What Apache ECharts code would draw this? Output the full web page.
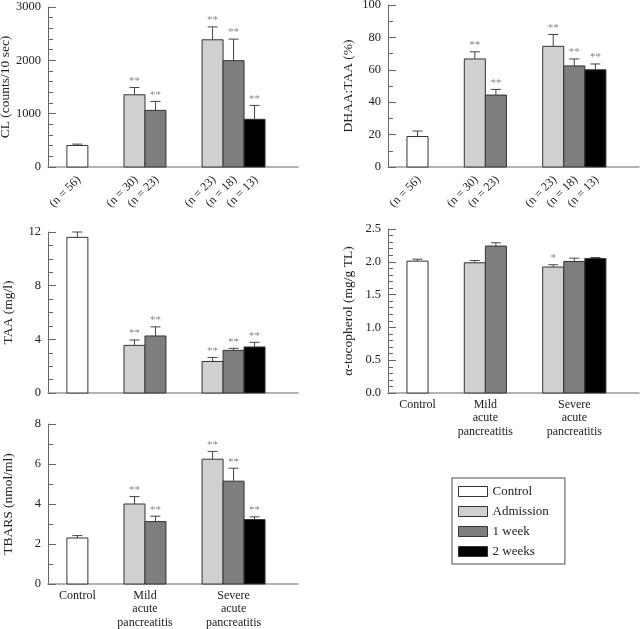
<!DOCTYPE html>
<html><head><meta charset="utf-8">
<script src="https://cdn.jsdelivr.net/npm/echarts@6/dist/echarts.min.js"></script>
<style>html,body{margin:0;padding:0;background:#fff}#c{width:640px;height:629px}</style>
</head><body><div id="c"></div>
<script>
// ---- data ----
const groupLabels = ['Control', 'Mild\nacute\npancreatitis', 'Severe\nacute\npancreatitis'];
const timepoints = ['Control', 'Admission', '1 week', '2 weeks'];
const barGroup = [0, 1, 1, 2, 2, 2];
const barTime  = [0, 1, 2, 1, 2, 3];
const nLabels = ['(n = 56)', '(n = 30)', '(n = 23)', '(n = 23)', '(n = 18)', '(n = 13)'];

const clMean  = [404, 1354, 1062, 2385, 1994, 894];
const clSem   = [25, 137, 168, 242, 404, 261];
const clStars = ['', '**', '**', '**', '**', '**'];

const dhaaMean  = [18.8, 66.7, 44.4, 74.5, 62.4, 60.0];
const dhaaSem   = [3.4, 4.4, 3.5, 7.3, 4.3, 3.6];
const dhaaStars = ['', '**', '**', '**', '**', '**'];

const taaMean  = [11.6, 3.55, 4.25, 2.35, 3.18, 3.43];
const taaSem   = [0.4, 0.4, 0.68, 0.3, 0.15, 0.35];
const taaStars = ['', '**', '**', '**', '**', '**'];

const tocoMean  = [2.01, 1.985, 2.24, 1.92, 2.005, 2.05];
const tocoSem   = [0.03, 0.035, 0.05, 0.035, 0.05, 0.016];
const tocoStars = ['', '', '', '*', '', ''];

const tbarsMean  = [2.30, 4.0, 3.12, 6.24, 5.14, 3.22];
const tbarsSem   = [0.12, 0.37, 0.27, 0.39, 0.65, 0.14];
const tbarsStars = ['', '**', '**', '**', '**', '**'];

// ---- style / layout ----
const FONT = 'Liberation Serif';
const fills = ['#ffffff', '#d0d1cf', '#7e7f7d', '#000000'];
const GROUP_SIZE = [1, 2, 3], PAD_L = 0.9, GAP = 1.72, PAD_R = 1.57;
const groupStart = [];
let acc = PAD_L;
for (let g = 0; g < GROUP_SIZE.length; g++) { groupStart.push(acc); acc += GROUP_SIZE[g] + GAP; }
const xMax = acc - GAP + PAD_R;
const barX = barGroup.map((g, i) => groupStart[g] + (i - barGroup.indexOf(g)));
const groupCenter = GROUP_SIZE.map((n, g) => groupStart[g] + n / 2);

const panels = [
  {mean: clMean, sem: clSem, stars: clStars, name: 'CL (counts/10 sec)', min: 0, max: 3000, interval: 1000, minor: 5, dec: 0,
   grid: {left: 48, top: 7, width: 250, height: 160}, showN: true, showGroups: false},
  {mean: dhaaMean, sem: dhaaSem, stars: dhaaStars, name: 'DHAA:TAA (%)', min: 0, max: 100, interval: 20, minor: 2, dec: 0,
   grid: {left: 388, top: 5, width: 251, height: 162}, showN: true, showGroups: false},
  {mean: taaMean, sem: taaSem, stars: taaStars, name: 'TAA (mg/l)', min: 0, max: 12, interval: 4, minor: 4, dec: 0,
   grid: {left: 48, top: 232, width: 250, height: 161}, showN: false, showGroups: false},
  {mean: tocoMean, sem: tocoSem, stars: tocoStars, name: 'α-tocopherol (mg/g TL)', min: 0, max: 2.5, interval: 0.5, minor: 5, dec: 1,
   grid: {left: 388, top: 229, width: 251, height: 164}, showN: false, showGroups: true},
  {mean: tbarsMean, sem: tbarsSem, stars: tbarsStars, name: 'TBARS (nmol/ml)', min: 0, max: 8, interval: 2, minor: 2, dec: 0,
   grid: {left: 48, top: 424, width: 250, height: 160}, showN: false, showGroups: true}
];

const grids = [], xAxes = [], yAxes = [], series = [];
panels.forEach((P, pi) => {
  grids.push(Object.assign({outerBoundsMode: 'none', containLabel: false}, P.grid));
  xAxes.push({type: 'value', gridIndex: pi, min: 0, max: xMax,
    axisLine: {show: true, onZero: false, lineStyle: {color: '#999', width: 1.5}},
    axisTick: {show: false}, axisLabel: {show: false}, splitLine: {show: false}});
  yAxes.push({type: 'value', gridIndex: pi, min: P.min, max: P.max, interval: P.interval,
    axisLine: {show: true, lineStyle: {color: '#666', width: 1}},
    axisTick: {show: true, inside: true, length: 8, lineStyle: {color: '#666'}},
    minorTick: {show: true, splitNumber: P.minor, length: 5, lineStyle: {color: '#666'}},
    axisLabel: {color: '#222', fontFamily: FONT, fontSize: 12.5, margin: 7,
      formatter: v => v.toFixed(P.dec)},
    splitLine: {show: false},
    name: P.name, nameLocation: 'middle', nameGap: 33,
    nameTextStyle: {fontFamily: FONT, fontSize: 13.5, color: '#222'}});
  for (let t = 0; t < timepoints.length; t++) {
    const idx = [];
    barTime.forEach((bt, i) => { if (bt === t) idx.push(i); });
    series.push({
      type: 'custom', name: timepoints[t], xAxisIndex: pi, yAxisIndex: pi, clip: false,
      itemStyle: {color: fills[t], borderColor: '#333', borderWidth: 1},
      encode: {x: 0, y: 1},
      data: idx.map(i => [barX[i], P.mean[i], P.sem[i], i]),
      renderItem: (params, api) => {
        const x0 = api.value(0), v = api.value(1), e = api.value(2), i = api.value(3);
        const pb = api.coord([x0, 0]), pt = api.coord([x0 + 1, v]), pe = api.coord([x0 + 0.5, v + e]);
        const cx = pe[0];
        const ch = [
          {type: 'rect', shape: {x: pb[0], y: pt[1], width: pt[0] - pb[0], height: pb[1] - pt[1]},
           style: {fill: fills[t], stroke: '#333', lineWidth: 1}},
          {type: 'line', shape: {x1: cx, y1: pt[1], x2: cx, y2: pe[1]}, style: {stroke: '#444', lineWidth: 1}},
          {type: 'line', shape: {x1: cx - 5, y1: pe[1], x2: cx + 5, y2: pe[1]}, style: {stroke: '#444', lineWidth: 1}}
        ];
        if (P.stars[i]) ch.push({type: 'text', x: cx, y: pe[1] - 1,
          style: {text: P.stars[i], fill: '#888', font: '11px "' + FONT + '"', align: 'center', verticalAlign: 'bottom'}});
        if (P.showN) ch.push({type: 'text', x: cx + 1.5, y: pb[1] + 11, rotation: Math.PI / 4,
          style: {text: nLabels[i], fill: '#222', font: '12px "' + FONT + '"', align: 'right', verticalAlign: 'middle'}});
        return {type: 'group', children: ch};
      }
    });
  }
  if (P.showGroups) {
    series.push({
      type: 'custom', name: 'groups' + pi, xAxisIndex: pi, yAxisIndex: pi, clip: false,
      data: groupCenter.map((c, g) => [c, 0, g]),
      renderItem: (params, api) => {
        const p = api.coord([api.value(0), 0]);
        return {type: 'text', x: p[0], y: p[1] + 5,
          style: {text: groupLabels[api.value(2)], fill: '#222', font: '12px "' + FONT + '"',
            align: 'center', verticalAlign: 'top', lineHeight: 13.5}};
      }
    });
  }
});

const chart = echarts.init(document.getElementById('c'), null, {renderer: 'canvas'});
chart.setOption({
  animation: false,
  backgroundColor: '#fff',
  grid: grids, xAxis: xAxes, yAxis: yAxes, series: series,
  legend: {orient: 'vertical', left: 452, top: 478, data: timepoints, icon: 'rect',
    itemWidth: 29, itemHeight: 10, itemGap: 7, padding: [7, 16, 6, 6],
    borderColor: '#888', borderWidth: 1.5, selectedMode: false,
    textStyle: {fontFamily: FONT, fontSize: 13, color: '#222'},
    itemStyle: {borderColor: '#333', borderWidth: 1}}
});
</script></body></html>
